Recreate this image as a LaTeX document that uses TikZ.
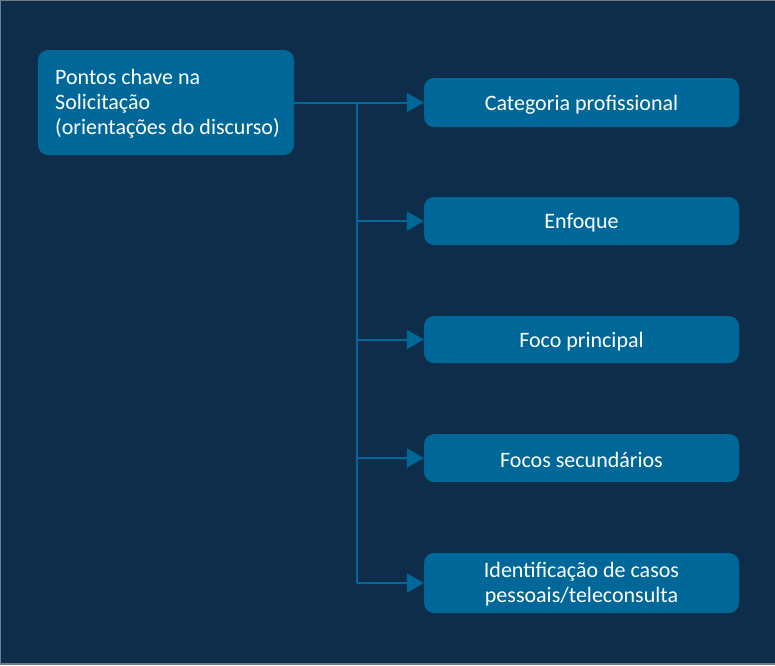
\documentclass[tikz,border=0pt]{standalone}
\usepackage{fontspec}
\setmainfont{Carlito}
\usetikzlibrary{arrows.meta}
\definecolor{bgnavy}{RGB}{14,45,74}
\definecolor{boxblue}{RGB}{0,104,153}
\definecolor{framegray}{RGB}{110,125,140}
\tikzset{
  rootbox/.style={fill=boxblue, rounded corners=10pt, inner sep=0pt, minimum width=256pt, minimum height=105pt},
  childbox/.style={fill=boxblue, rounded corners=10pt, inner sep=0pt, minimum width=315pt},
  childtext/.style={text=white, align=center, inner sep=0pt, font=\fontsize{22}{25}\selectfont},
  conn/.style={draw=boxblue, line width=2pt},
  arr/.style={conn, -{Triangle[length=17pt, width=19pt]}}
}
\begin{document}
\begin{tikzpicture}[x=1pt,y=-1pt]
\useasboundingbox (0,0) rectangle (775,665);
\fill[bgnavy] (0,0) rectangle (775,665);
\draw[framegray, line width=1pt] (0.5,664) -- (0.5,0.5) -- (775,0.5);
\draw[framegray, line width=1.2pt] (0,664) -- (775,664);
\node[rootbox] (root) at (166,102.5) {};
\node[anchor=west, text=white, align=left, font=\fontsize{22}{25}\selectfont, inner sep=0pt] (roottext) at (55,104) {Pontos chave na\\Solicitação\\(orientações do discurso)};
\node[childbox, minimum height=49pt] (c1) at (581.5,102.5) {};
\node[childbox, minimum height=48pt] (c2) at (581.5,221) {};
\node[childbox, minimum height=47pt] (c3) at (581.5,339.5) {};
\node[childbox, minimum height=48pt] (c4) at (581.5,458) {};
\node[childbox, minimum height=60pt] (c5) at (581.5,583) {};
\node[childtext] (t1) at ([yshift=-2pt]c1.center) {Categoria profissional};
\node[childtext] (t2) at ([yshift=-2pt]c2.center) {Enfoque};
\node[childtext] (t3) at ([yshift=-2pt]c3.center) {Foco principal};
\node[childtext] (t4) at ([yshift=-2pt]c4.center) {Focos secundários};
\node[childtext] (t5) at ([yshift=-1pt]c5.center) {Identificação de casos\\pessoais/teleconsulta};
\coordinate (j1) at (357,102.5);
\coordinate (j5) at (357,583);
\draw[arr] (root.east |- j1) -- (c1.west);
\draw[conn] (j1) -- (j5);
\draw[arr] (j1 |- c2.west) -- (c2.west);
\draw[arr] (j1 |- c3.west) -- (c3.west);
\draw[arr] (j1 |- c4.west) -- (c4.west);
\draw[arr] (j5) -- (c5.west);
\end{tikzpicture}
\end{document}
